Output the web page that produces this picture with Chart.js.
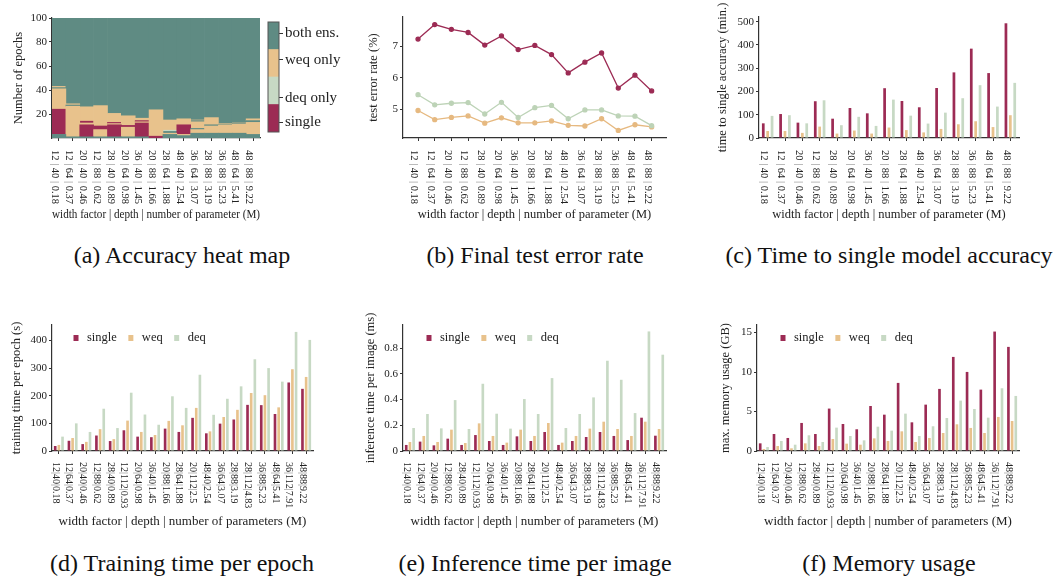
<!DOCTYPE html>
<html><head><meta charset="utf-8">
<script src="https://cdn.jsdelivr.net/npm/chart.js@4.4.0/dist/chart.umd.min.js"></script>
<style>
body{margin:0;background:#fff;width:1055px;height:580px;position:relative;overflow:hidden;font-family:"Liberation Serif","Times New Roman",serif;}
canvas{position:absolute;}
.cap{position:absolute;width:400px;text-align:center;font-size:24px;line-height:24px;color:#111;white-space:nowrap;}
</style></head><body>
<canvas id="ca" width="262" height="230" style="left:0px;top:0px"></canvas>
<canvas id="cbar" width="93" height="150" style="left:262px;top:0px"></canvas>
<canvas id="cb" width="350" height="230" style="left:350px;top:0px"></canvas>
<canvas id="cc" width="355" height="230" style="left:700px;top:0px"></canvas>
<canvas id="cd" width="350" height="240" style="left:0px;top:300px"></canvas>
<canvas id="ce" width="350" height="240" style="left:350px;top:300px"></canvas>
<canvas id="cf" width="355" height="240" style="left:700px;top:300px"></canvas>
<div class="cap" style="left:-18px;top:243px">(a) Accuracy heat map</div>
<div class="cap" style="left:335px;top:243px">(b) Final test error rate</div>
<div class="cap" style="left:689px;top:243px">(c) Time to single model accuracy</div>
<div class="cap" style="left:-18px;top:551px">(d) Training time per epoch</div>
<div class="cap" style="left:335px;top:551px">(e) Inference time per image</div>
<div class="cap" style="left:689px;top:551px">(f) Memory usage</div>
<script>
// ---------------- DATA ----------------
const categoriesTop = ['12 | 40 | 0.18','12 | 64 | 0.37','20 | 40 | 0.46','12 | 88 | 0.62','28 | 40 | 0.89','20 | 64 | 0.98','36 | 40 | 1.45','20 | 88 | 1.66','28 | 64 | 1.88','48 | 40 | 2.54','36 | 64 | 3.07','28 | 88 | 3.19','36 | 88 | 5.23','48 | 64 | 5.41','48 | 88 | 9.22'];
const categoriesBottom = ['12|40|0.18','12|64|0.37','20|40|0.46','12|88|0.62','28|40|0.89','12|112|0.93','20|64|0.98','36|40|1.45','20|88|1.66','28|64|1.88','20|112|2.5','48|40|2.54','36|64|3.07','28|88|3.19','28|112|4.83','36|88|5.23','48|64|5.41','36|112|7.91','48|88|9.22'];

// heat map: per column, [class, fromEpoch, toEpoch]; s=single, d=deq only, w=weq only, b=both ens.
const heatColumns = [
  [['b',0,3],['s',3,24],['w',24,41],['b',41,42],['w',42,43],['b',43,100]],
  [['b',0,1],['w',1,26.5],['b',26.5,27.5],['w',27.5,28.5],['b',28.5,100]],
  [['b',0,1],['s',1,11],['w',11,12.5],['s',12.5,14],['w',14,26],['b',26,100]],
  [['b',0,1],['w',1,7],['s',7,10],['w',10,27],['b',27,100]],
  [['b',0,1],['s',1,11],['w',11,12],['s',12,13],['w',13,20.5],['b',20.5,100]],
  [['b',0,1],['w',1,9],['s',9,10.5],['w',10.5,18.5],['b',18.5,100]],
  [['b',0,1],['s',1,12.5],['w',12.5,13.5],['s',13.5,14.5],['w',14.5,16.5],['b',16.5,100]],
  [['s',0,1.5],['w',1.5,23.5],['b',23.5,100]],
  [['b',0,3],['w',3,4],['b',4,5.5],['d',5.5,6.5],['w',6.5,15],['b',15,100]],
  [['b',0,2],['w',2,3],['s',3,11],['w',11,16],['b',16,100]],
  [['b',0,4],['w',4,7],['b',7,8],['w',8,13.5],['b',13.5,14.5],['w',14.5,15],['b',15,100]],
  [['b',0,4],['w',4,10],['b',10,11],['w',11,17],['b',17,100]],
  [['b',0,4],['w',4,11],['b',11,11.5],['w',11.5,12],['b',12,100]],
  [['b',0,4],['w',4,11.5],['b',11.5,12],['w',12,12.5],['b',12.5,100]],
  [['b',0,3],['w',3,13],['b',13,14.5],['w',14.5,16],['b',16,100]]
];
const heatClassKeys = ['s','d','w','b'];
const heatClassLabels = ['single','deq only','weq only','both ens.'];

// (b) final test error rate (%)
const errSingle = [7.23,7.69,7.54,7.44,7.04,7.33,6.90,7.03,6.74,6.16,6.50,6.79,5.68,6.09,5.59];
const errWeq    = [4.97,4.68,4.75,4.80,4.57,4.74,4.58,4.58,4.64,4.50,4.48,4.71,4.34,4.52,4.45];
const errDeq    = [5.47,5.15,5.20,5.22,4.86,5.23,4.75,5.06,5.13,4.71,4.99,4.99,4.80,4.79,4.49];

// (c) time to single accuracy (min.)
const ttaSingle = [63,103,66,158,83,129,106,214,159,132,215,282,384,279,493];
const ttaWeq    = [30,30,22,49,19,32,19,45,34,24,39,59,72,47,98];
const ttaDeq    = [95,98,63,162,55,91,52,165,96,62,109,171,227,135,237];

// (d) training time per epoch (s)
const trainSingle = [18,37,25,56,36,75,52,50,81,69,120,64,99,114,167,166,134,248,225];
const trainWeq    = [22,47,33,79,43,110,69,58,109,93,156,71,123,149,210,202,158,296,268];
const trainDeq    = [52,100,69,153,83,211,132,95,198,156,276,131,189,234,332,300,251,431,402];

// (e) inference time per image (ms)
const infSingle = [0.047,0.073,0.044,0.096,0.047,0.124,0.078,0.047,0.114,0.078,0.148,0.047,0.078,0.109,0.148,0.117,0.085,0.259,0.119];
const infWeq    = [0.070,0.117,0.070,0.166,0.062,0.215,0.117,0.065,0.166,0.117,0.218,0.065,0.117,0.174,0.228,0.171,0.117,0.228,0.171];
const infDeq    = [0.179,0.288,0.176,0.396,0.171,0.523,0.290,0.174,0.404,0.288,0.567,0.179,0.288,0.417,0.702,0.554,0.295,0.930,0.749];

// (f) max. memory usage (GB)
const memSingle = [0.97,2.15,1.65,3.55,2.15,5.37,3.42,2.75,5.70,4.60,8.62,3.63,5.87,7.86,11.91,10.01,7.77,15.12,13.18];
const memWeq    = [0.25,0.63,0.34,0.97,0.63,1.52,0.93,0.80,1.60,1.27,2.49,1.14,1.65,2.28,3.38,2.92,2.28,4.31,3.80];
const memDeq    = [0.50,1.27,0.80,1.99,1.14,2.96,1.90,1.35,3.08,2.58,4.73,1.90,3.13,4.18,6.38,5.32,4.22,7.94,6.97];

// tick values
const yTicksA = [20,40,60,80,100];
const yTicksB = [5,6,7];
const yTicksC = [0,100,200,300,400,500];
const yTicksD = [0,100,200,300,400];
const yTicksE = [0,0.2,0.4,0.6,0.8];
const yTicksF = [0,5,10,15];

// ---------------- STYLE ----------------
const FONT = "'Liberation Serif','Times New Roman',serif";
const AX = '#333';
const TXT = '#222';
const C = { single:'#9c2b54', weq:'#e8c28c', deq:'#c7d9c4', both:'#5f8b83' };
const heatColor = { s:C.single, d:C.deq, w:C.weq, b:C.both };

Chart.defaults.font.family = FONT;
const base = {
  responsive:false, animation:false, devicePixelRatio:1,
  plugins:{ legend:{display:false}, tooltip:{enabled:false} }
};

function vLabels(labels, size, dy, dx) {
  return { id:'vLabels', afterDraw(chart) {
    const xs = chart.scales.x, ctx = chart.ctx;
    ctx.save();
    ctx.font = size + 'px ' + FONT;
    ctx.textBaseline = 'middle'; ctx.textAlign = 'left';
    labels.forEach((lab, i) => {
      const x = xs.getPixelForValue(i) + dx, y = xs.top + dy;
      ctx.save(); ctx.translate(x, y); ctx.rotate(Math.PI/2);
      let cx = 0;
      lab.split(/(\|)/).forEach(part => {
        ctx.fillStyle = part === '|' ? '#808080' : TXT;
        ctx.fillText(part, cx, 0);
        cx += ctx.measureText(part).width;
      });
      ctx.restore();
    });
    ctx.restore();
  }};
}
function innerLegend(dx, dy) {
  return { id:'innerLegend', afterDraw(chart) {
    const ctx = chart.ctx, a = chart.chartArea;
    ctx.save(); ctx.font = '12.5px ' + FONT; ctx.textBaseline = 'middle'; ctx.textAlign = 'left';
    let x = a.left + dx; const y = a.top + dy;
    chart.data.datasets.forEach(ds => {
      ctx.fillStyle = ds.backgroundColor; ctx.fillRect(x - 2.5, y - 3, 5, 6);
      ctx.fillStyle = TXT; ctx.fillText(ds.label, x + 11, y);
      x += 11 + ctx.measureText(ds.label).width + 14;
    });
    ctx.restore();
  }};
}
const frame = { id:'frame', afterDraw(chart) {
  const a = chart.chartArea, ctx = chart.ctx;
  ctx.save(); ctx.strokeStyle = '#555'; ctx.lineWidth = 1;
  ctx.strokeRect(a.left, a.top, a.right - a.left, a.bottom - a.top); ctx.restore();
}};

function xScale(h, text, size, padB, extra) {
  return Object.assign({
    type:'category', offset:true,
    afterFit: s => { s.height = h; },
    grid:{display:true, offset:false, drawOnChartArea:false, drawTicks:true, tickLength:3, color:AX, lineWidth:1},
    border:{display:true, color:AX, width:1.2},
    ticks:{display:false},
    title:{display:true, text, color:TXT, font:{family:FONT, size}, padding:{top:0, bottom:padB}}
  }, extra || {});
}
function yScale(w, min, max, tickVals, text, padT) {
  return {
    type:'linear', min, max,
    afterFit: s => { s.width = w; },
    afterBuildTicks: s => { s.ticks = tickVals.map(v => ({value:v})); },
    grid:{display:true, drawOnChartArea:false, drawTicks:true, tickLength:3, color:AX, lineWidth:1},
    border:{display:true, color:AX, width:1.2},
    ticks:{color:TXT, padding:2, font:{family:FONT, size:11}, callback: v => String(v)},
    title:{display:true, text, color:TXT, font:{family:FONT, size:12.5}, padding:{top:padT, bottom:0}}
  };
}

// ---------------- (a) heat map ----------------
const maxLayers = Math.max(...heatColumns.map(c => c.length));
const heatDatasets = [];
for (let k = 0; k < maxLayers; k++) {
  heatDatasets.push({
    data: heatColumns.map(c => c[k] ? [c[k][1], c[k][2]] : null),
    backgroundColor: heatColumns.map(c => c[k] ? heatColor[c[k][0]] : 'rgba(0,0,0,0)'),
    borderWidth:0, grouped:false, barPercentage:1, categoryPercentage:1
  });
}
const titleTop = 'width factor | depth | number of parameter (M)';
const titleBottom = 'width factor | depth | number of parameters (M)';

new Chart(document.getElementById('ca'), {
  type:'bar',
  data:{ labels:categoriesTop, datasets:heatDatasets },
  options:Object.assign({}, base, {
    layout:{padding:{top:18, right:2, left:0, bottom:0}},
    scales:{ x:xScale(92, titleTop, 12.5, 7.5), y:yScale(52, 0, 100, yTicksA, 'Number of epochs', 11) }
  }),
  plugins:[vLabels(categoriesTop, 10.5, 12, -4)]
});

// colorbar
new Chart(document.getElementById('cbar'), {
  type:'bar',
  data:{ labels:[''], datasets: heatClassKeys.map(k => ({ data:[1], backgroundColor:heatColor[k], borderWidth:0, barPercentage:1, categoryPercentage:1 })) },
  options:Object.assign({}, base, {
    layout:{padding:{left:6, top:22, bottom:18, right:0}},
    scales:{
      x:{display:false, stacked:true},
      y:{ stacked:true, position:'right', min:0, max:4,
          afterFit: s => { s.width = 76; },
          afterBuildTicks: s => { s.ticks = [0.36,1.24,2.62,3.6].map(v => ({value:v})); },
          grid:{display:true, drawOnChartArea:false, drawTicks:true, tickLength:4, color:AX},
          border:{display:false},
          ticks:{color:TXT, padding:2, font:{family:FONT, size:15}, callback:(v, i) => heatClassLabels[i]} }
    }
  }),
  plugins:[frame]
});

// ---------------- (b) error rate ----------------
function lineDs(label, vals, color) {
  return { label, data: vals.map((v, i) => ({x:i, y:v})), borderColor:color, backgroundColor:color,
           pointBackgroundColor:color, pointBorderColor:color, pointRadius:2, borderWidth:1.3, tension:0 };
}
new Chart(document.getElementById('cb'), {
  type:'line',
  data:{ datasets:[ lineDs('deq', errDeq, '#bdd3b7'), lineDs('weq', errWeq, '#e6b980'), lineDs('single', errSingle, C.single) ] },
  options:Object.assign({}, base, {
    layout:{padding:{top:17, right:34, left:0, bottom:0}},
    scales:{
      x:xScale(92, titleTop, 12.5, 7.5, { type:'linear', offset:false, min:-0.9, max:14.86,
          afterBuildTicks: s => { s.ticks = categoriesTop.map((_, i) => ({value:i})); } }),
      y:yScale(53, 4.1, 7.93, yTicksB, 'test error rate (%)', 16)
    }
  }),
  plugins:[vLabels(categoriesTop, 10.5, 12, -4)]
});

// ---------------- bar charts ----------------
function barDatasets(s, w, d, bp, cp) {
  return [
    { label:'single', data:s, backgroundColor:C.single, borderWidth:0, barPercentage:bp, categoryPercentage:cp },
    { label:'weq', data:w, backgroundColor:C.weq, borderWidth:0, barPercentage:bp, categoryPercentage:cp },
    { label:'deq', data:d, backgroundColor:C.deq, borderWidth:0, barPercentage:bp, categoryPercentage:cp }
  ];
}
// (c)
new Chart(document.getElementById('cc'), {
  type:'bar',
  data:{ labels:categoriesTop, datasets:barDatasets(ttaSingle, ttaWeq, ttaDeq, 0.62, 0.76) },
  options:Object.assign({}, base, {
    layout:{padding:{top:17, right:36, left:0, bottom:0}},
    scales:{ x:xScale(92, titleTop, 12.5, 7.5), y:yScale(59, 0, 520, yTicksC, 'time to single accuracy (min.)', 15) }
  }),
  plugins:[vLabels(categoriesTop, 10.5, 12, -4)]
});
// (d)
new Chart(document.getElementById('cd'), {
  type:'bar',
  data:{ labels:categoriesBottom, datasets:barDatasets(trainSingle, trainWeq, trainDeq, 0.72, 0.8) },
  options:Object.assign({}, base, {
    layout:{padding:{top:25, right:37, left:0, bottom:0}},
    scales:{ x:xScale(89, titleBottom, 13, 10.2), y:yScale(52, 0, 456, yTicksD, 'training time per epoch (s)', 9) }
  }),
  plugins:[vLabels(categoriesBottom, 10, 11, -3.5), innerLegend(24, 13)]
});
// (e)
new Chart(document.getElementById('ce'), {
  type:'bar',
  data:{ labels:categoriesBottom, datasets:barDatasets(infSingle, infWeq, infDeq, 0.72, 0.8) },
  options:Object.assign({}, base, {
    layout:{padding:{top:25, right:34, left:0, bottom:0}},
    scales:{ x:xScale(89, titleBottom, 13, 10.2), y:yScale(53, 0, 0.98, yTicksE, 'inference time per image (ms)', 13.5) }
  }),
  plugins:[vLabels(categoriesBottom, 10, 11, -3.5), innerLegend(26, 13)]
});
// (f)
new Chart(document.getElementById('cf'), {
  type:'bar',
  data:{ labels:categoriesBottom, datasets:barDatasets(memSingle, memWeq, memDeq, 0.72, 0.8) },
  options:Object.assign({}, base, {
    layout:{padding:{top:25, right:36, left:0, bottom:0}},
    scales:{ x:xScale(89, titleBottom, 13, 10.2), y:yScale(57, 0, 15.95, yTicksF, 'max. memory usage (GB)', 18.5) }
  }),
  plugins:[vLabels(categoriesBottom, 10, 11, -3.5), innerLegend(26, 13)]
});
</script>
</body></html>
